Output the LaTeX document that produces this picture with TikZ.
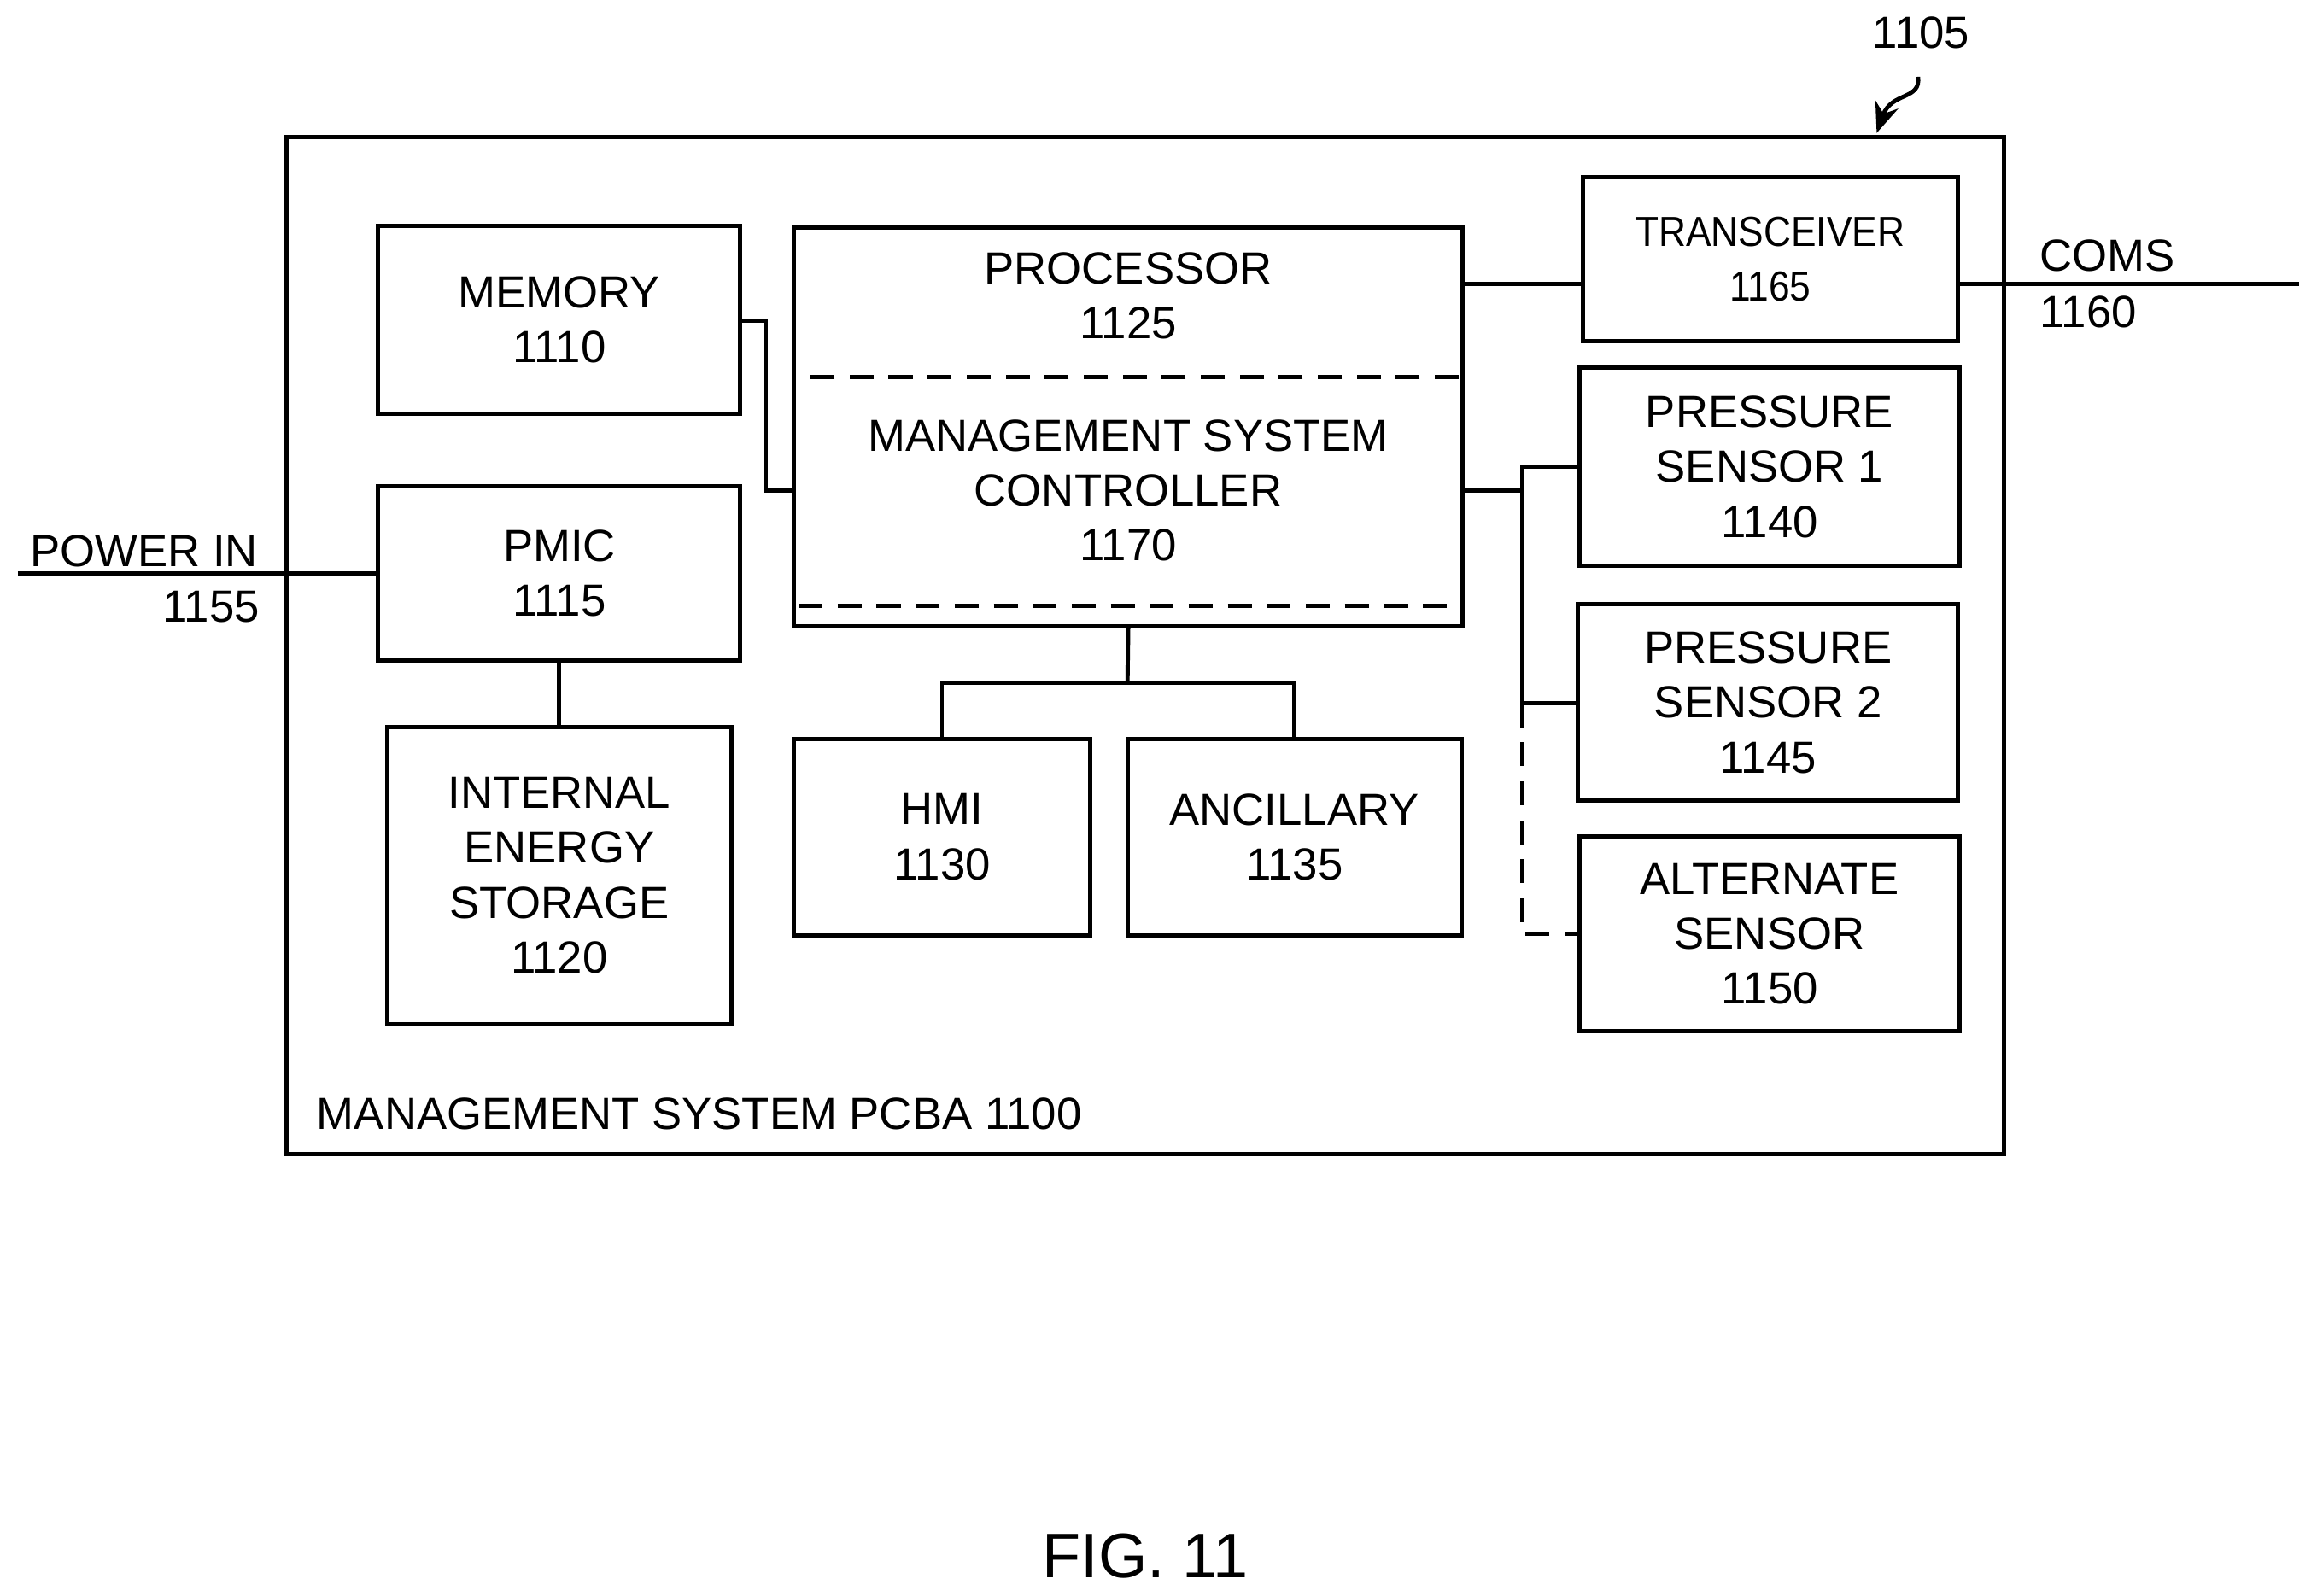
\documentclass[tikz,border=0pt]{standalone}
\usepackage{fontspec}
\setmainfont{Liberation Sans}
\usetikzlibrary{arrows.meta}
\begin{document}
\begin{tikzpicture}[x=0.0173cm,y=-0.0173cm,
  box/.style={draw,line width=1.4pt,inner sep=0pt},
  txt/.style={font=\fontsize{15}{18.3}\selectfont,align=center,inner sep=0pt},
  ln/.style={line width=1.4pt},
  dsh/.style={line width=1.4pt,dash pattern=on 8pt off 5pt}]
\useasboundingbox (0,0) rectangle (1568,1080);
\draw[box] (194,93) rectangle (1356,781);
\node[box,minimum width=245*0.0173cm,minimum height=127*0.0173cm] (mem) at (378.5,216.5) {};
\node[txt] at (mem) {MEMORY\\1110};
\node[box,minimum width=245*0.0173cm,minimum height=118*0.0173cm] (pmic) at (378.5,388) {};
\node[txt] at (pmic) {PMIC\\1115};
\node[box,minimum width=233*0.0173cm,minimum height=201*0.0173cm] (ies) at (378.5,592.5) {};
\node[txt] at (ies) {INTERNAL\\ENERGY\\STORAGE\\1120};
\node[box,minimum width=453*0.0173cm,minimum height=270*0.0173cm] (proc) at (763.5,289) {};
\node[txt] at (763.5,200) {PROCESSOR\\1125};
\draw[dsh] (537,255) rectangle (990,410);
\coordinate (msc) at (763.5,332);
\node[txt] at (msc) {MANAGEMENT SYSTEM\\CONTROLLER\\1170};
\node[box,minimum width=201*0.0173cm,minimum height=133*0.0173cm] (hmi) at (637.5,566.5) {};
\node[txt] at (hmi) {HMI\\1130};
\node[box,minimum width=226*0.0173cm,minimum height=133*0.0173cm] (anc) at (876,566.5) {};
\node[txt] at (anc) {ANCILLARY\\1135};
\node[box,minimum width=254*0.0173cm,minimum height=111*0.0173cm] (tr) at (1198,175.5) {};
\node[txt,font=\fontsize{14}{18.3}\selectfont] at (tr) {\scalebox{0.9}[1]{TRANSCEIVER}\\\scalebox{0.9}[1]{1165}};
\node[box,minimum width=257*0.0173cm,minimum height=134*0.0173cm] (ps1) at (1197.5,316) {};
\node[txt] at (ps1) {PRESSURE\\SENSOR 1\\1140};
\node[box,minimum width=257*0.0173cm,minimum height=133*0.0173cm] (ps2) at (1196.5,475.5) {};
\node[txt] at (ps2) {PRESSURE\\SENSOR 2\\1145};
\node[box,minimum width=257*0.0173cm,minimum height=132*0.0173cm] (alt) at (1197.5,632) {};
\node[txt] at (alt) {ALTERNATE\\SENSOR\\1150};
\coordinate (pin) at (12,388);
\coordinate (coms) at (1556,192);
\draw[ln] (mem.east |- 0,217) -- (518,217) -- (518,332) -- (proc.west |- 0,332);
\draw[ln] (proc.east |- 0,192) -- (tr.west |- 0,192);
\draw[ln] (tr.east |- 0,192) -- (coms);
\draw[ln] (pin) -- (pmic.west);
\draw[ln] (pmic.south) -- (ies.north);
\draw[ln] (proc.south) -- (763,462);
\draw[ln] (hmi.north) -- (637.5,462) -- (876,462) -- (anc.north);
\draw[ln] (proc.east |- 0,332) -- (1030,332);
\draw[ln] (ps1.west |- 0,316) -- (1030,316) -- (1030,476) -- (ps2.west |- 0,476);
\draw[dsh] (1030,476) -- (1030,632) -- (alt.west);
\node[txt,anchor=west] at (1380,173) {COMS};
\node[txt,anchor=west] at (1380,211) {1160};
\node[txt,anchor=west] at (20,373) {POWER IN};
\node[txt,anchor=east] at (176,411) {1155};
\node[txt,anchor=west] at (214,754) {MANAGEMENT SYSTEM PCBA 1100};
\node[txt] at (1300,22) {1105};
\draw[line width=1.4pt,-{Stealth[length=10pt,width=8pt]}] (1298,52) .. controls (1300,68) and (1280,62) .. (1270,90);
\node[txt,font=\fontsize{21}{24}\selectfont] at (775,1053) {FIG. 11};
\end{tikzpicture}
\end{document}
